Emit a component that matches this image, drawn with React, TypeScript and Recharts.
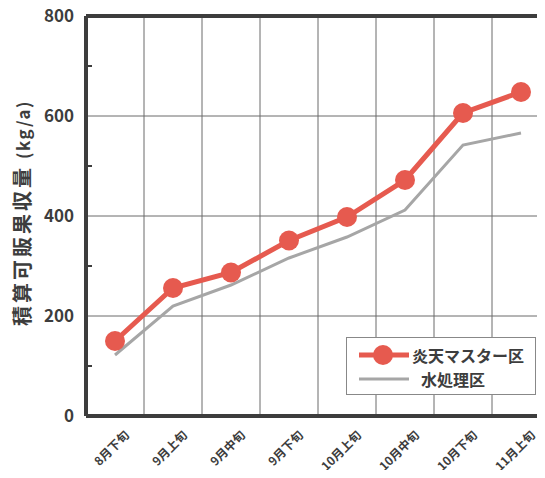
import { LineChart, Line, XAxis, YAxis, CartesianGrid, ReferenceLine } from "recharts";

// 旬ごとのラベル
const periods = ["8月下旬", "9月上旬", "9月中旬", "9月下旬", "10月上旬", "10月中旬", "10月下旬", "11月上旬"];
// 炎天マスター区
const entenMaster = [150, 256, 287, 351, 398, 472, 606, 648];
// 水処理区
const waterOnly = [122, 220, 262, 316, 358, 412, 542, 566];
const yTicks = [0, 100, 200, 300, 400, 500, 600, 700, 800];
const gridValues = [200, 400, 600];
const bandEdges = [1, 2, 3, 4, 5, 6, 7];

const chartData = periods.map((p, i) => ({
  pos: i + 0.5,
  label: p,
  enten: entenMaster[i],
  water: waterOnly[i],
}));

const FONT = "'Noto Sans CJK JP', 'Noto Sans', sans-serif";
const INK = "#3d3d3d";
const RED = "#e65a4f";
const GRAY = "#a6a6a6";

function YTick(props: any) {
  const { x, y, payload } = props;
  if (payload.value % 200 !== 0) {
    // minor tick inside the axis
    return <line x1={x + 8} x2={x + 14} y1={y} y2={y} stroke={INK} strokeWidth={2} />;
  }
  return (
    <text x={x - 4} y={y} dy={6} textAnchor="end" fill={INK} fontSize={17} fontWeight={700} fontFamily={FONT}>
      {payload.value}
    </text>
  );
}

function XTick(props: any) {
  const { x, y, payload } = props;
  const label = periods[Math.round(payload.value - 0.5)];
  return (
    <g transform={`translate(${x + 15},${y + 12})`}>
      <text textAnchor="end" transform="rotate(-45)" fill={INK} fontSize={12} fontWeight={700} fontFamily={FONT}>
        {label}
      </text>
    </g>
  );
}

function LegendBox() {
  return (
    <div
      style={{
        position: "absolute",
        left: 346,
        top: 337,
        width: 190,
        height: 58,
        border: "1px solid #888",
        background: "#fff",
        fontFamily: FONT,
        fontWeight: 700,
        fontSize: 16,
        color: INK,
        boxSizing: "border-box",
        padding: "5px 0 0 10px",
      }}
    >
      <div style={{ display: "flex", alignItems: "center", height: 24 }}>
        <svg width={54} height={22}>
          <line x1={2} x2={52} y1={11} y2={11} stroke={RED} strokeWidth={5} />
          <circle cx={26} cy={11} r={10} fill={RED} />
        </svg>
        <span style={{ marginLeft: 1 }}>炎天マスター区</span>
      </div>
      <div style={{ display: "flex", alignItems: "center", height: 24 }}>
        <svg width={54} height={22}>
          <line x1={2} x2={52} y1={11} y2={11} stroke={GRAY} strokeWidth={3} />
        </svg>
        <span style={{ marginLeft: 10 }}>水処理区</span>
      </div>
    </div>
  );
}

export default function App() {
  return (
    <div style={{ margin: -8, width: 545, height: 478, overflow: "hidden", background: "#fff", position: "relative" }}>
      <div
        style={{
          position: "absolute",
          left: 22,
          top: 213,
          transform: "translate(-50%, -50%) rotate(-90deg)",
          whiteSpace: "nowrap",
          fontFamily: FONT,
          fontWeight: 700,
          color: INK,
          lineHeight: 1,
        }}
      >
        <span style={{ fontSize: 20, letterSpacing: 3 }}>積算可販果収量</span>
        <span style={{ fontSize: 17, letterSpacing: 1.5, marginLeft: 6 }}>(kg/a)</span>
      </div>
      <LineChart width={560} height={478} data={chartData} margin={{ top: 16, right: 10, bottom: 0, left: 0 }}>
        <CartesianGrid horizontal={false} vertical={false} />
        {gridValues.map((v) => (
          <ReferenceLine key={"h" + v} y={v} stroke="#6a6a6a" strokeWidth={1} />
        ))}
        {bandEdges.map((v) => (
          <ReferenceLine key={"v" + v} x={v} stroke="#6a6a6a" strokeWidth={1} />
        ))}
        <ReferenceLine y={800} stroke={INK} strokeWidth={4} />
        <XAxis
          dataKey="pos"
          type="number"
          domain={[0, 8]}
          ticks={chartData.map((d) => d.pos)}
          interval={0}
          height={62}
          tick={<XTick />}
          tickLine={false}
          axisLine={{ stroke: INK, strokeWidth: 4 }}
        />
        <YAxis
          type="number"
          domain={[0, 800]}
          ticks={yTicks}
          interval={0}
          width={86}
          tick={<YTick />}
          tickLine={false}
          axisLine={{ stroke: INK, strokeWidth: 4 }}
        />
        <Line
          dataKey="water"
          stroke={GRAY}
          strokeWidth={3}
          dot={false}
          activeDot={false}
          isAnimationActive={false}
        />
        <Line
          dataKey="enten"
          stroke={RED}
          strokeWidth={5}
          dot={{ r: 10, fill: RED, stroke: RED, strokeWidth: 0 }}
          activeDot={false}
          isAnimationActive={false}
        />
      </LineChart>
      <LegendBox />
    </div>
  );
}
